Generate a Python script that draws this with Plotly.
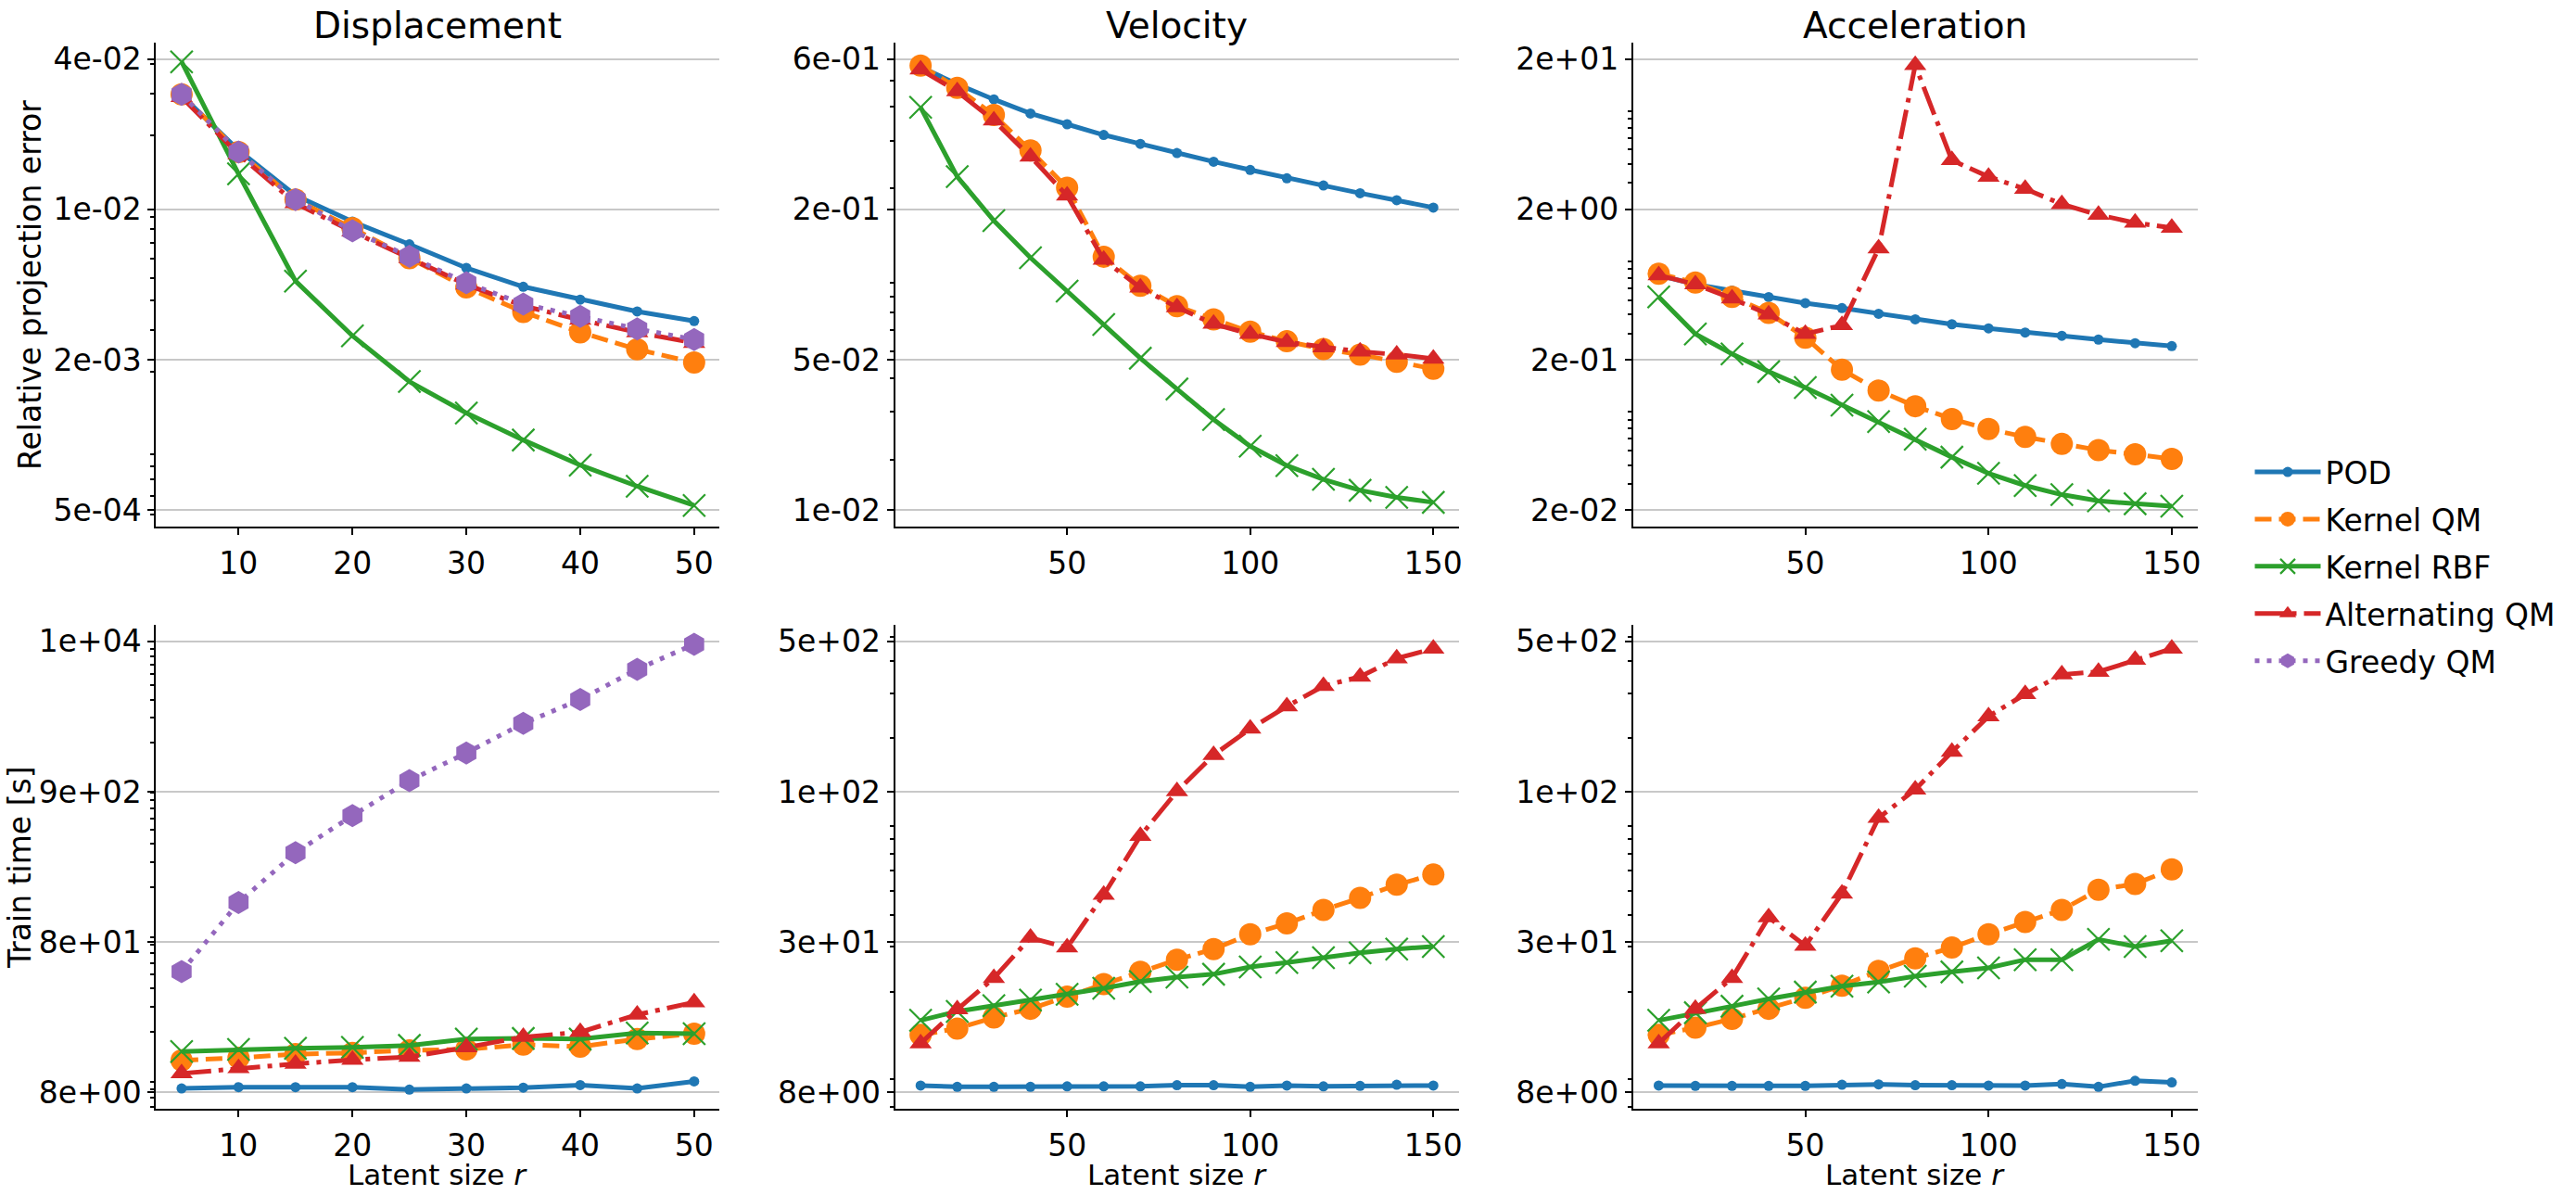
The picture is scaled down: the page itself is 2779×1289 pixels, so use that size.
import numpy as np
import plotly.graph_objects as go

# ---------------- data ----------------
r_disp = [5, 10, 15, 20, 25, 30, 35, 40, 45, 50]
r_vel = [10, 20, 30, 40, 50, 60, 70, 80, 90, 100, 110, 120, 130, 140, 150]
r_acc = [10, 20, 30, 40, 50, 60, 70, 80, 90, 100, 110, 120, 130, 140, 150]

method_names = ["POD", "Kernel QM", "Kernel RBF", "Alternating QM", "Greedy QM"]
column_titles = ["Displacement", "Velocity", "Acceleration"]
row_titles = ["Relative projection error", "Train time [s]"]
x_title = "Latent size <i>r</i>"

x_ticks_disp = [10, 20, 30, 40, 50]
x_ticks_vel = [50, 100, 150]
x_ticks_acc = [50, 100, 150]

# relative projection error
disp_err_pod = [0.0295, 0.0173, 0.01114, 0.00863, 0.00692, 0.00550, 0.00458, 0.00404, 0.00360, 0.00328]
disp_err_kqm = [0.0298, 0.0170, 0.01069, 0.00811, 0.00605, 0.00455, 0.00358, 0.00294, 0.00249, 0.00219]
disp_err_rbf = [0.0409, 0.01374, 0.00484, 0.00284, 0.00182, 0.00134, 0.00103, 0.000807, 0.000657, 0.000545]
disp_err_alt = [0.0290, 0.0166, 0.01033, 0.00783, 0.00605, 0.00468, 0.00380, 0.00332, 0.00294, 0.00265]
disp_err_greedy = [0.0298, 0.0170, 0.01069, 0.00789, 0.00615, 0.00476, 0.00387, 0.00343, 0.00304, 0.00274]

vel_err_pod = [0.561, 0.485, 0.426, 0.378, 0.345, 0.315, 0.292, 0.270, 0.251, 0.234, 0.218, 0.205, 0.192, 0.181, 0.170]
vel_err_kqm = [0.568, 0.470, 0.373, 0.276, 0.201, 0.112, 0.0875, 0.0736, 0.0658, 0.0592, 0.0546, 0.0511, 0.0488, 0.0459, 0.0432]
vel_err_rbf = [0.398, 0.221, 0.152, 0.111, 0.0836, 0.0630, 0.0473, 0.0364, 0.0281, 0.0224, 0.0190, 0.0169, 0.0154, 0.0145, 0.0139]
vel_err_alt = [0.549, 0.456, 0.356, 0.262, 0.188, 0.109, 0.0861, 0.0729, 0.0633, 0.0581, 0.0542, 0.0518, 0.0500, 0.0488, 0.0471]

acc_err_pod = [0.730, 0.635, 0.577, 0.523, 0.477, 0.442, 0.405, 0.372, 0.345, 0.324, 0.304, 0.289, 0.273, 0.258, 0.247]
acc_err_kqm = [0.748, 0.653, 0.525, 0.411, 0.281, 0.172, 0.125, 0.0984, 0.0809, 0.0693, 0.0615, 0.0552, 0.0502, 0.0471, 0.0439]
acc_err_rbf = [0.525, 0.297, 0.219, 0.167, 0.131, 0.100, 0.0778, 0.0593, 0.0451, 0.0352, 0.0292, 0.0254, 0.0231, 0.0221, 0.0213]
acc_err_alt = [0.730, 0.635, 0.512, 0.400, 0.297, 0.340, 1.10, 18.2, 4.25, 3.30, 2.74, 2.17, 1.84, 1.63, 1.51]

# train time [s]
disp_time_pod = [8.11, 8.28, 8.28, 8.28, 7.96, 8.11, 8.22, 8.55, 8.11, 9.07]
disp_time_kqm = [12.7, 13.2, 14.0, 14.3, 14.9, 15.1, 16.3, 15.8, 17.8, 19.4]
disp_time_rbf = [14.6, 15.1, 15.4, 15.6, 16.1, 17.8, 18.0, 17.8, 19.6, 19.4]
disp_time_alt = [10.3, 11.2, 12.0, 12.8, 13.4, 15.6, 18.4, 19.9, 26.3, 32.0]
disp_time_greedy = [52.3, 157, 348, 628, 1096, 1707, 2730, 3998, 6475, 9660]

vel_time_pod = [8.52, 8.42, 8.42, 8.42, 8.46, 8.46, 8.46, 8.55, 8.55, 8.42, 8.52, 8.46, 8.49, 8.58, 8.52]
vel_time_kqm = [13.5, 14.3, 15.8, 17.1, 19.1, 21.4, 23.9, 26.7, 29.4, 33.6, 37.1, 41.9, 46.8, 52.7, 57.8]
vel_time_rbf = [15.4, 16.7, 17.6, 18.5, 19.5, 20.6, 21.9, 22.8, 23.4, 25.0, 26.0, 27.2, 28.4, 29.4, 30.1]
vel_time_alt = [12.5, 17.0, 22.6, 32.6, 29.8, 48.1, 82.0, 123, 171, 217, 266, 320, 348, 411, 449]

acc_time_pod = [8.52, 8.49, 8.49, 8.49, 8.49, 8.58, 8.61, 8.55, 8.55, 8.52, 8.52, 8.64, 8.42, 8.90, 8.77]
acc_time_kqm = [13.5, 14.4, 15.6, 17.1, 18.9, 21.1, 24.1, 27.0, 29.8, 33.6, 37.6, 41.9, 50.4, 53.1, 60.6]
acc_time_rbf = [15.4, 16.5, 17.5, 18.7, 19.9, 21.0, 21.8, 23.0, 23.9, 24.8, 26.7, 26.7, 32.1, 30.1, 31.7]
acc_time_alt = [12.5, 17.1, 22.6, 39.2, 30.3, 48.6, 96.7, 125, 176, 243, 297, 355, 364, 406, 449]

# y tick labels (log-evenly spaced ticks between the given bottom/top tick values)
disp_err_ticklabels = ["5e-04", "2e-03", "1e-02", "4e-02"]
vel_err_ticklabels = ["1e-02", "5e-02", "2e-01", "6e-01"]
acc_err_ticklabels = ["2e-02", "2e-01", "2e+00", "2e+01"]
disp_time_ticklabels = ["8e+00", "8e+01", "9e+02", "1e+04"]
vel_time_ticklabels = ["8e+00", "3e+01", "1e+02", "5e+02"]
acc_time_ticklabels = ["8e+00", "3e+01", "1e+02", "5e+02"]

disp_err_tickspan = (5.2e-4, 4.2e-2)
vel_err_tickspan = (0.013, 0.6)
acc_err_tickspan = (0.02, 20.0)
disp_time_tickspan = (7.6, 10116.0)
vel_time_tickspan = (8.0, 480.0)
acc_time_tickspan = (8.0, 480.0)

# ---------------- figure ----------------
W, H = 2779, 1289
FONT = "DejaVu Sans"

STYLES = {
    "POD": dict(color="#1f77b4", dash="solid", symbol="circle", size=11, lw=0),
    "Kernel QM": dict(color="#ff7f0e", dash="18px,8px", symbol="circle", size=24, lw=0),
    "Kernel RBF": dict(color="#2ca02c", dash="solid", symbol="x-thin", size=24, lw=2.2),
    "Alternating QM": dict(color="#d62728", dash="32px,8px,5px,8px", symbol="triangle-up", size=21, lw=0),
    "Greedy QM": dict(color="#9467bd", dash="5px,8px", symbol="hexagon", size=25, lw=0),
}

panels = [
    # row 0
    dict(x=r_disp, xt=x_ticks_disp, xr=[2.75, 52.25],
         series=[disp_err_pod, disp_err_kqm, disp_err_rbf, disp_err_alt, disp_err_greedy],
         tl=disp_err_ticklabels, ts=disp_err_tickspan),
    dict(x=r_vel, xt=x_ticks_vel, xr=[3, 157],
         series=[vel_err_pod, vel_err_kqm, vel_err_rbf, vel_err_alt, None],
         tl=vel_err_ticklabels, ts=vel_err_tickspan),
    dict(x=r_acc, xt=x_ticks_acc, xr=[3, 157],
         series=[acc_err_pod, acc_err_kqm, acc_err_rbf, acc_err_alt, None],
         tl=acc_err_ticklabels, ts=acc_err_tickspan),
    # row 1
    dict(x=r_disp, xt=x_ticks_disp, xr=[2.75, 52.25],
         series=[disp_time_pod, disp_time_kqm, disp_time_rbf, disp_time_alt, disp_time_greedy],
         tl=disp_time_ticklabels, ts=disp_time_tickspan),
    dict(x=r_vel, xt=x_ticks_vel, xr=[3, 157],
         series=[vel_time_pod, vel_time_kqm, vel_time_rbf, vel_time_alt, None],
         tl=vel_time_ticklabels, ts=vel_time_tickspan),
    dict(x=r_acc, xt=x_ticks_acc, xr=[3, 157],
         series=[acc_time_pod, acc_time_kqm, acc_time_rbf, acc_time_alt, None],
         tl=acc_time_ticklabels, ts=acc_time_tickspan),
]

COL_X = [(168.5, 777.6), (966.9, 1576.2), (1764.3, 2374.0)]
ROW_Y = [(44.0, 568.0), (674.0, 1198.0)]
PAD = 0.11

fig = go.Figure()
layout = {}

for p, pan in enumerate(panels):
    row, col = divmod(p, 3)
    idx = p + 1
    xs = "" if idx == 1 else str(idx)
    for m, name in enumerate(method_names):
        ys = pan["series"][m]
        if ys is None:
            continue
        st = STYLES[name]
        marker = dict(symbol=st["symbol"], size=st["size"], color=st["color"])
        if st["lw"] > 0:
            marker["line"] = dict(width=st["lw"], color=st["color"])
        else:
            marker["line"] = dict(width=0)
        fig.add_trace(go.Scatter(
            x=pan["x"], y=ys, mode="lines+markers", name=name,
            legendgroup=name, showlegend=(p == 0),
            line=dict(color=st["color"], width=5, dash=st["dash"]),
            marker=marker, xaxis="x" + xs, yaxis="y" + xs,
        ))

    lo, hi = pan["ts"]
    L0, L3 = np.log10(lo), np.log10(hi)
    d = (L3 - L0) / 3.0
    tickvals = list(10 ** (L0 + d * np.arange(4)))
    yr = [L0 - PAD * d, L3 + PAD * d]
    minor_vals = []
    for k in range(int(np.floor(yr[0])) - 1, int(np.ceil(yr[1])) + 1):
        for mm in range(2, 10):
            v = mm * 10.0 ** k
            if yr[0] <= np.log10(v) <= yr[1]:
                minor_vals.append(v)

    x0, x1 = COL_X[col]
    y0, y1 = ROW_Y[row]
    layout["xaxis" + xs] = dict(
        domain=[x0 / W, x1 / W], anchor="y" + xs, range=pan["xr"],
        tickmode="array", tickvals=pan["xt"], ticks="outside", ticklen=7, tickwidth=2,
        tickcolor="black", showline=True, linecolor="black", linewidth=2,
        showgrid=False, zeroline=False, ticklabelstandoff=2,
        tickfont=dict(size=33, color="black", family=FONT),
    )
    layout["yaxis" + xs] = dict(
        domain=[1 - y1 / H, 1 - y0 / H], anchor="x" + xs, type="log", range=yr,
        tickmode="array", tickvals=tickvals, ticktext=pan["tl"],
        ticks="outside", ticklen=7, tickwidth=2, tickcolor="black",
        showline=True, linecolor="black", linewidth=2,
        showgrid=True, gridcolor="#c8c8c8", gridwidth=1.5, zeroline=False,
        tickfont=dict(size=33, color="black", family=FONT),
        minor=dict(tickmode="array", tickvals=minor_vals, ticks="outside",
                   ticklen=4, tickwidth=1.5, tickcolor="black", showgrid=False),
    )

annotations = []
for c, t in enumerate(column_titles):
    x0, x1 = COL_X[c]
    annotations.append(dict(text=t, x=(x0 + x1) / 2 / W, y=1 - 26 / H, xref="paper", yref="paper",
                            xanchor="center", yanchor="middle", showarrow=False,
                            font=dict(size=39, color="black", family=FONT)))
    annotations.append(dict(text=x_title, x=(x0 + x1) / 2 / W, y=0, xref="paper", yref="paper",
                            xanchor="center", yanchor="bottom", showarrow=False,
                            font=dict(size=31, color="black", family=FONT)))
for r, (t, xp) in enumerate(zip(row_titles, [32, 21])):
    y0, y1 = ROW_Y[r]
    annotations.append(dict(text=t, x=xp / W, y=1 - (y0 + y1) / 2 / H, xref="paper", yref="paper",
                            xanchor="center", yanchor="middle", textangle=-90, showarrow=False,
                            font=dict(size=33, color="black", family=FONT)))

fig.update_layout(
    width=W, height=H, margin=dict(l=0, r=0, t=0, b=0),
    paper_bgcolor="white", plot_bgcolor="white",
    font=dict(family=FONT, color="black", size=33),
    legend=dict(x=2431 / W, y=1 - 611 / H, xanchor="left", yanchor="middle",
                font=dict(size=33, family=FONT, color="black"), bgcolor="rgba(0,0,0,0)",
                tracegroupgap=5, itemwidth=71),
    annotations=annotations,
    **layout,
)

fig.write_html("out.html")
